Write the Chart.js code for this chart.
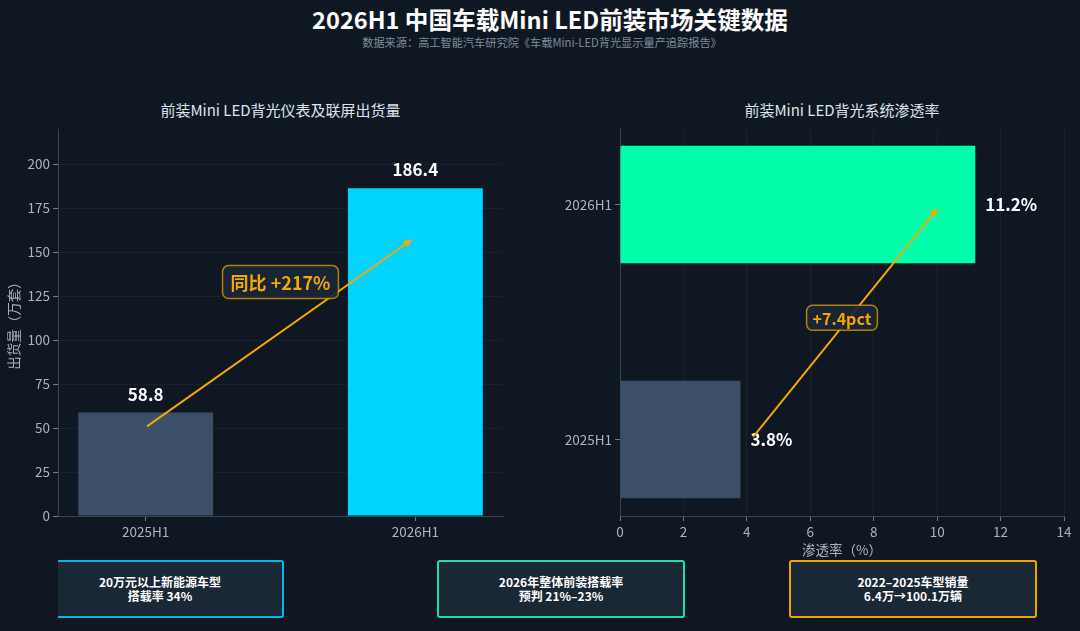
<!DOCTYPE html>
<html>
<head>
<meta charset="utf-8">
<script src="https://cdn.jsdelivr.net/npm/chart.js@4.4.0/dist/chart.umd.min.js"></script>
<style>
  html, body { margin: 0; padding: 0; }
  body {
    width: 1080px; height: 631px; overflow: hidden; position: relative;
    background: #0f1822; font-family: "Noto Sans CJK SC", "Noto Sans", sans-serif;
  }
  .title { position: absolute; left: 10px; width: 1080px; top: 3px; text-align: center;
    color: #ffffff; font-size: 23.6px; font-weight: bold; line-height: 32px; }
  .subtitle { position: absolute; left: 2px; width: 1080px; top: 34px; text-align: center;
    color: #7f8c9c; font-size: 11.2px; line-height: 16px; }
  .subtitle2 { position: absolute; top: 100px; color: #dde4ec; font-size: 15px; line-height: 20px; text-align: center; }
  .wrap { position: absolute; }
  .clip { position: absolute; overflow: hidden; }
  .card { position: absolute; box-sizing: border-box; height: 58px; border: 2px solid; border-radius: 3px;
    background: #1a2735; color: #ffffff; font-size: 12px; font-weight: bold; line-height: 14px;
    display: flex; align-items: center; justify-content: center; text-align: center; }
</style>
</head>
<body>
<div class="title">2026H1 中国车载Mini LED前装市场关键数据</div>
<div class="subtitle">数据来源：高工智能汽车研究院《车载Mini-LED背光显示量产追踪报告》</div>
<div class="subtitle2" style="left:58px;width:445px;">前装Mini LED背光仪表及联屏出货量</div>
<div class="subtitle2" style="left:620px;width:444px;">前装Mini LED背光系统渗透率</div>

<div class="wrap" style="left:0;top:118px;width:520px;height:428px;"><canvas id="left"></canvas></div>
<div class="wrap" style="left:540px;top:117px;width:540px;height:441px;"><canvas id="right"></canvas></div>

<div class="clip" style="left:58px;top:560px;width:240px;height:60px;">
  <div class="card" style="left:-22px;top:0;width:248px;border-color:#00b8e6;">20万元以上新能源车型<br>搭载率 34%</div>
</div>
<div class="card" style="left:437px;top:560px;width:248px;border-color:#1de0a4;">2026年整体前装搭载率<br>预判 21%–23%</div>
<div class="card" style="left:789px;top:560px;width:248px;border-color:#f0a500;">2022–2025车型销量<br>6.4万→100.1万辆</div>

<script>
const periods = ['2025H1', '2026H1'];
const shipments = [58.8, 186.4];      // 万套
const penetration = [3.8, 11.2];      // %
const shipColors = ['#3b5068', '#00d4ff'];
const penColors = ['#3b5068', '#00ffaa'];
const yoyLabel = '同比 +217%';
const pctLabel = '+7.4pct';

const FONT = '"Noto Sans CJK SC", "Noto Sans", sans-serif';
const TICK = '#a9b4c2';
const ORANGE = '#f5a800';
Chart.defaults.font.family = FONT;
Chart.defaults.animation = false;

function drawArrow(ctx, x1, y1, x2, y2) {
  const a = Math.atan2(y2 - y1, x2 - x1);
  const hl = 9, hw = 4;
  ctx.save();
  ctx.strokeStyle = ORANGE; ctx.fillStyle = ORANGE; ctx.lineWidth = 2;
  ctx.beginPath();
  ctx.moveTo(x1, y1);
  ctx.lineTo(x2 - hl * Math.cos(a), y2 - hl * Math.sin(a));
  ctx.stroke();
  ctx.beginPath();
  ctx.moveTo(x2, y2);
  ctx.lineTo(x2 - hl * Math.cos(a) + hw * Math.sin(a), y2 - hl * Math.sin(a) - hw * Math.cos(a));
  ctx.lineTo(x2 - hl * Math.cos(a) - hw * Math.sin(a), y2 - hl * Math.sin(a) + hw * Math.cos(a));
  ctx.closePath(); ctx.fill();
  ctx.restore();
}

function drawTag(ctx, cx, cy, text, size, padX, padY) {
  ctx.save();
  ctx.font = 'bold ' + size + 'px ' + FONT;
  const w = ctx.measureText(text).width + padX * 2;
  const h = size + padY * 2;
  ctx.beginPath();
  ctx.roundRect(cx - w / 2, cy - h / 2, w, h, 6);
  ctx.fillStyle = 'rgba(26,38,54,0.92)';
  ctx.fill();
  ctx.strokeStyle = 'rgba(245,168,0,0.7)';
  ctx.lineWidth = 1.5;
  ctx.stroke();
  ctx.fillStyle = ORANGE;
  ctx.textAlign = 'center'; ctx.textBaseline = 'middle';
  ctx.fillText(text, cx, cy + 1);
  ctx.restore();
}

// value labels + trend arrow, all placed through the chart scales
const notes = {
  id: 'notes',
  afterDatasetsDraw(chart, args, opts) {
    const ctx = chart.ctx;
    const xs = chart.scales.x, ys = chart.scales.y;
    const bars = chart.getDatasetMeta(0).data;
    ctx.save();
    ctx.fillStyle = '#ffffff';
    ctx.font = 'bold 17px ' + FONT;
    bars.forEach((b, i) => {
      const v = chart.data.datasets[0].data[i];
      if (opts.horizontal) {
        ctx.textAlign = 'left'; ctx.textBaseline = 'middle';
        ctx.fillText(v.x.toFixed(1) + '%', b.x + 10, b.y);
      } else {
        ctx.textAlign = 'center'; ctx.textBaseline = 'alphabetic';
        ctx.fillText(v.y.toFixed(1), b.x, b.y - 12);
      }
    });
    ctx.restore();
    const p = (pt) => [xs.getPixelForValue(pt[0]), ys.getPixelForValue(pt[1])];
    const a = p(opts.from), b = p(opts.to), c = p(opts.at);
    drawArrow(ctx, a[0], a[1], b[0], b[1]);
    drawTag(ctx, c[0], c[1], opts.text, opts.size, opts.padX, opts.padY);
  }
};

const tickFont = { size: 13.5, family: FONT };

new Chart(document.getElementById('left'), {
  type: 'bar',
  data: {
    datasets: [{
      data: periods.map((p, i) => ({ x: i, y: shipments[i] })),
      backgroundColor: shipColors,
      borderColor: shipColors,
      borderWidth: 0,
      categoryPercentage: 1,
      barPercentage: 0.5
    }]
  },
  options: {
    responsive: true, maintainAspectRatio: false,
    layout: { padding: { top: 6, right: 17, left: 0, bottom: 0 } },
    plugins: {
      legend: { display: false }, tooltip: { enabled: false },
      notes: { from: [0.005, 51], to: [0.99, 157.5], at: [0.5, 133], text: yoyLabel, size: 18, padX: 8, padY: 7.5 }
    },
    scales: {
      x: {
        type: 'linear', min: -0.325, max: 1.325, offset: false,
        afterBuildTicks: (s) => { s.ticks = periods.map((p, i) => ({ value: i })); },
        afterFit: (s) => { s.height = 30; },
        ticks: { color: TICK, font: tickFont, padding: 3, callback: (v) => periods[v] },
        grid: { drawOnChartArea: false, drawTicks: true, tickLength: 5, tickColor: '#6b7b8e', offset: false },
        border: { color: '#34455a', width: 1 }
      },
      y: {
        min: 0, max: 220,
        afterFit: (s) => { s.width = 58; },
        ticks: { stepSize: 25, includeBounds: false, color: TICK, font: tickFont, padding: 3 },
        grid: { color: 'rgba(255,255,255,0.045)', tickLength: 5, tickColor: '#6b7b8e' },
        border: { color: '#34455a', width: 1 },
        title: { display: true, text: '出货量（万套）', color: TICK, font: { size: 13.5, family: FONT }, padding: { top: 6, bottom: 4 } }
      }
    }
  },
  plugins: [notes]
});

new Chart(document.getElementById('right'), {
  type: 'bar',
  data: {
    datasets: [{
      data: periods.map((p, i) => ({ x: penetration[i], y: i })),
      backgroundColor: penColors,
      borderWidth: 0,
      categoryPercentage: 1,
      barPercentage: 0.5
    }]
  },
  options: {
    indexAxis: 'y',
    responsive: true, maintainAspectRatio: false,
    layout: { padding: { top: 6, right: 16, left: 0, bottom: 0 } },
    plugins: {
      legend: { display: false }, tooltip: { enabled: false },
      notes: { horizontal: true, from: [4.2, 0.012], to: [10.03, 0.986], at: [7.0, 0.518], text: pctLabel, size: 16, padX: 6, padY: 4.5 }
    },
    scales: {
      x: {
        min: 0, max: 14,
        afterFit: (s) => { s.height = 42; },
        ticks: { stepSize: 2, color: TICK, font: tickFont, padding: 3 },
        grid: { color: 'rgba(255,255,255,0.045)', tickLength: 5, tickColor: '#6b7b8e' },
        border: { color: '#34455a', width: 1 },
        title: { display: true, text: '渗透率（%）', color: TICK, font: { size: 13.5, family: FONT }, padding: { top: 0, bottom: 0 } }
      },
      y: {
        type: 'linear', min: -0.325, max: 1.325, offset: false,
        afterBuildTicks: (s) => { s.ticks = periods.map((p, i) => ({ value: i })); },
        afterFit: (s) => { s.width = 80; },
        ticks: { color: TICK, font: tickFont, padding: 3, callback: (v) => periods[v] },
        grid: { drawOnChartArea: false, drawTicks: true, tickLength: 5, tickColor: '#6b7b8e', offset: false },
        border: { color: '#34455a', width: 1 }
      }
    }
  },
  plugins: [notes]
});
</script>
</body>
</html>
